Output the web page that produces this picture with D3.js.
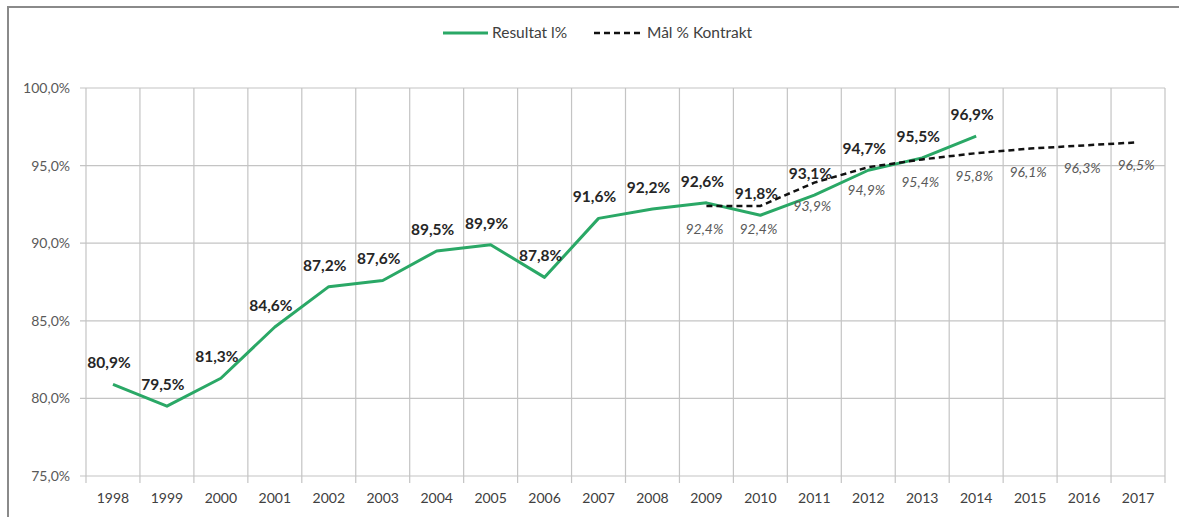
<!DOCTYPE html>
<html>
<head>
<meta charset="utf-8">
<script src="https://cdn.jsdelivr.net/npm/d3@7"></script>
<style>
  html, body { margin: 0; padding: 0; background: #fff; }
  svg { display: block; font-family: "Lato", "Liberation Sans", sans-serif; }
</style>
</head>
<body>
<svg id="chart" width="1179" height="517"></svg>
<script>
const years = ["1998","1999","2000","2001","2002","2003","2004","2005","2006","2007","2008","2009","2010","2011","2012","2013","2014","2015","2016","2017"];
const resultatYears = ["1998","1999","2000","2001","2002","2003","2004","2005","2006","2007","2008","2009","2010","2011","2012","2013","2014"];
const resultatValues = [80.9, 79.5, 81.3, 84.6, 87.2, 87.6, 89.5, 89.9, 87.8, 91.6, 92.2, 92.6, 91.8, 93.1, 94.7, 95.5, 96.9];
const targetYears = ["2009","2010","2011","2012","2013","2014","2015","2016","2017"];
const targetValues = [92.4, 92.4, 93.9, 94.9, 95.4, 95.8, 96.1, 96.3, 96.5];
const yTicks = [75, 80, 85, 90, 95, 100];
const seriesNames = ["Resultat l%", "Mål % Kontrakt"];

(function () {
const svg = d3.select("#chart");
const pLeft = 86, pRight = 1165, pTop = 88, pBottom = 476;
const fmt = v => v.toFixed(1).replace(".", ",") + "%";

const x = d3.scaleBand().domain(years).range([pLeft, pRight]).padding(0);
const y = d3.scaleLinear().domain([75, 100]).range([pBottom, pTop]);
const cx = d => x(d) + x.bandwidth() / 2;

// outer frame
svg.append("path").attr("d", "M8,517 L8,7 L1179,7").attr("fill", "none")
  .attr("stroke", "#8a8a8a").attr("stroke-width", 2);

const grid = "#c4c4c4";
// horizontal gridlines
svg.append("g").selectAll("line").data(yTicks).join("line")
  .attr("x1", pLeft - 6).attr("x2", pRight)
  .attr("y1", d => y(d)).attr("y2", d => y(d))
  .attr("stroke", grid).attr("stroke-width", 1.2);

// vertical gridlines at band edges
const edges = years.map(d => x(d)).concat([pRight]);
svg.append("g").selectAll("line").data(edges).join("line")
  .attr("x1", d => d).attr("x2", d => d)
  .attr("y1", pTop).attr("y2", pBottom + 7)
  .attr("stroke", grid).attr("stroke-width", 1.2);

// y axis labels
svg.append("g").selectAll("text").data(yTicks).join("text")
  .attr("x", 70).attr("y", d => y(d) + 5)
  .attr("text-anchor", "end").attr("font-size", 14).attr("fill", "#595959")
  .text(d => d.toFixed(1).replace(".", ",") + "%");

// x axis labels
svg.append("g").selectAll("text").data(years).join("text")
  .attr("x", d => cx(d)).attr("y", 503)
  .attr("text-anchor", "middle").attr("font-size", 14).attr("fill", "#404040")
  .text(d => d);

// lines
const resData = resultatYears.map((d, i) => ({ year: d, v: resultatValues[i] }));
const tgtData = targetYears.map((d, i) => ({ year: d, v: targetValues[i] }));
const line = d3.line().x(d => cx(d.year)).y(d => y(d.v));

svg.append("path").datum(resData).attr("d", line)
  .attr("fill", "none").attr("stroke", "#2aa866").attr("stroke-width", 3)
  .attr("stroke-linejoin", "round");

svg.append("path").datum(tgtData).attr("d", line)
  .attr("fill", "none").attr("stroke", "#111").attr("stroke-width", 2.5)
  .attr("stroke-dasharray", "6,4");

// labels
svg.append("g").selectAll("text").data(resData).join("text")
  .attr("x", d => cx(d.year) - 4).attr("y", d => y(d.v) - 16)
  .attr("text-anchor", "middle").attr("font-size", 15.5).attr("font-weight", "bold")
  .attr("fill", "#262626").text(d => fmt(d.v));

svg.append("g").selectAll("text").data(tgtData).join("text")
  .attr("x", d => cx(d.year) - 2).attr("y", d => y(d.v) + 28)
  .attr("text-anchor", "middle").attr("font-size", 14).attr("font-style", "italic")
  .attr("fill", "#595959").text(d => fmt(d.v));

// legend
const lg = svg.append("g");
lg.append("line").attr("x1", 443).attr("x2", 488).attr("y1", 33).attr("y2", 33)
  .attr("stroke", "#2aa866").attr("stroke-width", 3);
lg.append("text").attr("x", 492).attr("y", 38).attr("font-size", 15.5).attr("fill", "#404040")
  .text(seriesNames[0]);
lg.append("line").attr("x1", 594).attr("x2", 640).attr("y1", 33).attr("y2", 33)
  .attr("stroke", "#111").attr("stroke-width", 2.5).attr("stroke-dasharray", "6,4");
lg.append("text").attr("x", 647).attr("y", 38).attr("font-size", 15.5).attr("fill", "#404040")
  .text(seriesNames[1]);
})();
</script>
</body>
</html>
